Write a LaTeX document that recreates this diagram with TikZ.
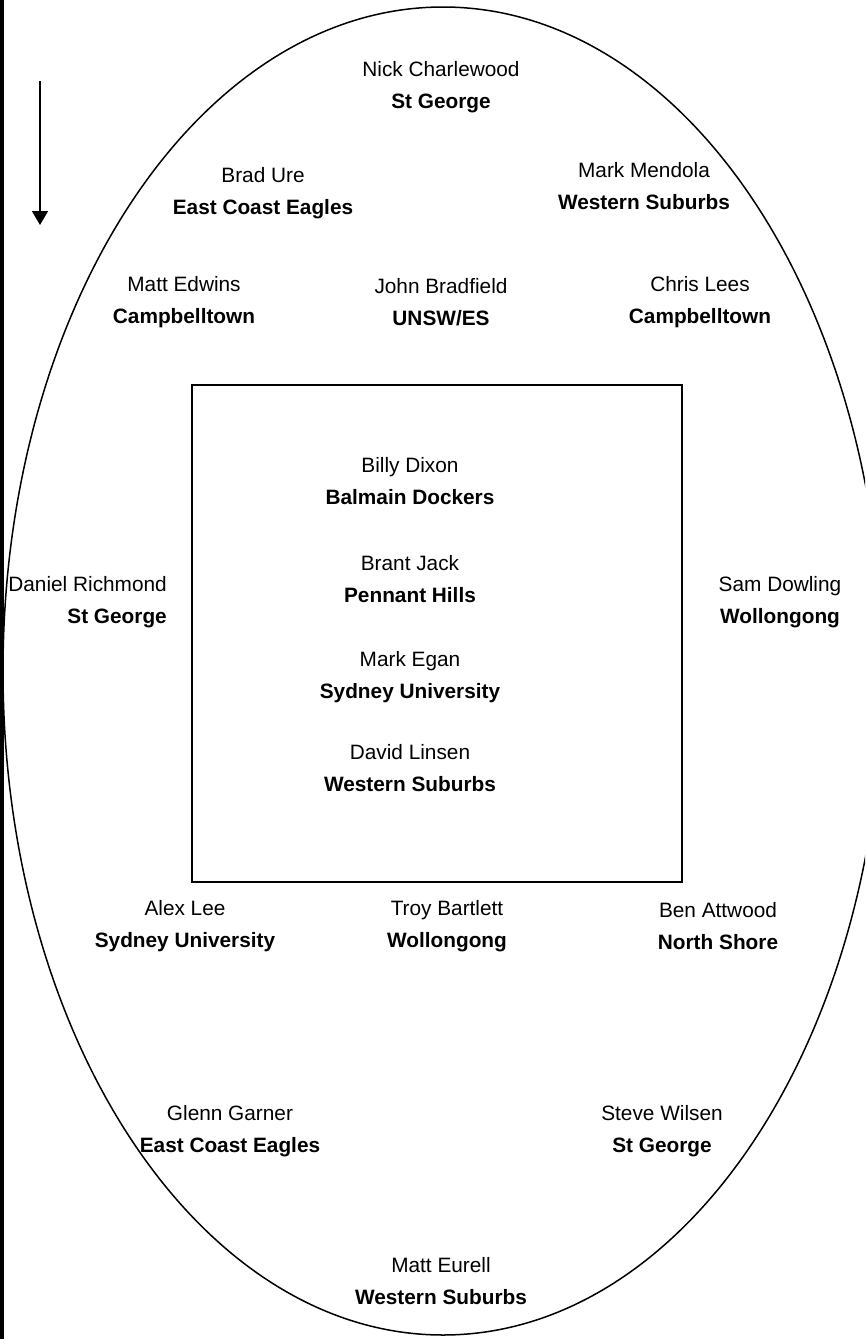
\documentclass[tikz,border=0pt]{standalone}
\usepackage{fontspec}
\setmainfont{Liberation Sans}
\usepackage{tikz}
\usetikzlibrary{arrows.meta}
\newcommand{\playerclub}[2]{#1\\\textbf{#2}}
\tikzstyle{player} = [align=center, inner sep=0pt, font=\fontsize{20.8}{32}\selectfont]
\tikzstyle{rink} = [draw, line width=2pt, minimum width=490pt, minimum height=497pt, inner sep=0pt]
\tikzstyle{oval} = [line width=1.5pt]

\begin{document}
\begin{tikzpicture}[x=1pt, y=-1pt]
	\useasboundingbox (0,0) rectangle (865,1339);
	\clip (0,0) rectangle (865,1339);
	\fill (0,0) rectangle (4,1339);
	\draw[oval] (443,671) ellipse [x radius=440, y radius=664];
	\node[rink] (box) at (437,633.5) {};
	% direction arrow
	\coordinate (arrowtop) at (40,81);
	\coordinate (arrowtip) at (40,225);
	\draw[line width=1.4pt, -{Triangle[length=14pt, width=16pt]}] (arrowtop) -- (arrowtip);
	% outer ring
	\node[player] (nick) at (441,87.5) {\playerclub{Nick Charlewood}{St George}};
	\node[player] (brad) at (263,193.5) {\playerclub{Brad Ure}{East Coast Eagles}};
	\node[player] (mendola) at (644,186.5) {\playerclub{Mark Mendola}{Western Suburbs}};
	\node[player] (edwins) at (184,302.5) {\playerclub{Matt Edwins}{Campbelltown}};
	\node[player] (bradfield) at (441,302.5) {\playerclub{John Bradfield}{UNSW/ES}};
	\node[player] (lees) at (700,302.5) {\playerclub{Chris Lees}{Campbelltown}};
	\node[player, align=right, anchor=east] (richmond) at (167,602) {\playerclub{Daniel Richmond}{St George}};
	\node[player] (dowling) at (780,602) {\playerclub{Sam Dowling}{Wollongong}};
	\node[player] (alex) at (185,926) {\playerclub{Alex Lee}{Sydney University}};
	\node[player] (troy) at (447,926) {\playerclub{Troy Bartlett}{Wollongong}};
	\node[player] (ben) at (718,926) {\playerclub{Ben Attwood}{North Shore}};
	\node[player] (glenn) at (230,1131) {\playerclub{Glenn Garner}{East Coast Eagles}};
	\node[player] (steve) at (662,1131) {\playerclub{Steve Wilsen}{St George}};
	\node[player] (eurell) at (441,1281.5) {\playerclub{Matt Eurell}{Western Suburbs}};
	% inside the square
	\node[player] (dixon) at (410,481) {\playerclub{Billy Dixon}{Balmain Dockers}};
	\node[player] (jack) at (410,579) {\playerclub{Brant Jack}{Pennant Hills}};
	\node[player] (egan) at (410,677.5) {\playerclub{Mark Egan}{Sydney University}};
	\node[player] (linsen) at (410,768) {\playerclub{David Linsen}{Western Suburbs}};
\end{tikzpicture}
\end{document}
